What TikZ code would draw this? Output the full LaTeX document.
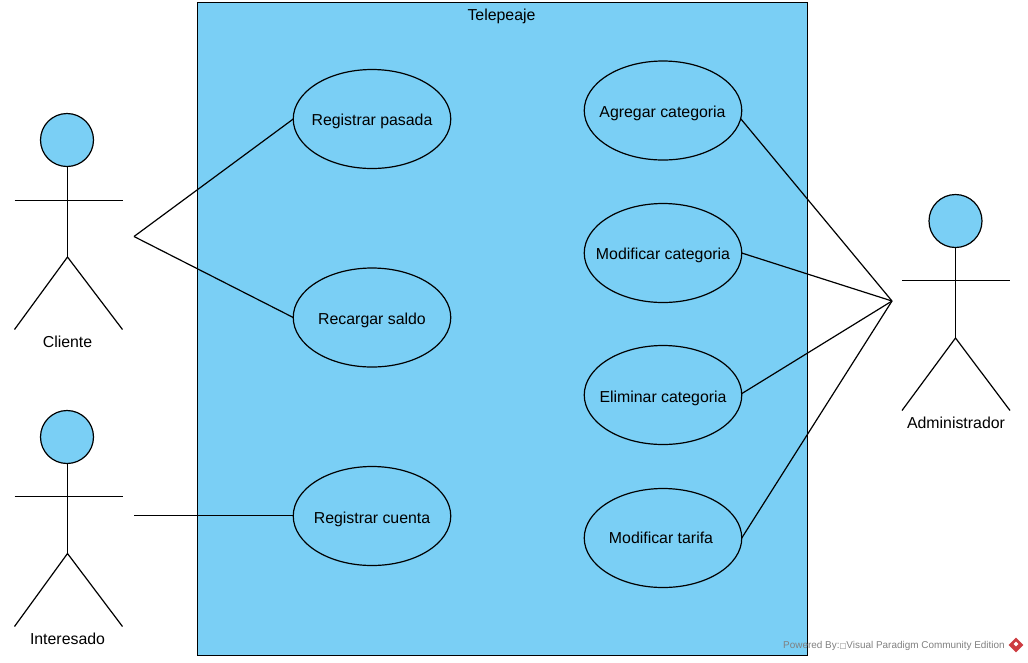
\documentclass[tikz,border=0pt]{standalone}
\usepackage{fontspec}
\setmainfont{Liberation Sans}
\newfontfamily\symfont{DejaVu Sans}
\usetikzlibrary{shapes.geometric}
\definecolor{vpblue}{RGB}{122,207,245}
\definecolor{vpred}{RGB}{205,60,65}
\newlength{\pxu}\setlength{\pxu}{0.75pt}
% label centred on the node: #1 = shift right (px), #2 = twice the baseline drop (px)
\newcommand{\uclabel}[3]{\hspace*{#1\pxu}\raisebox{-#2\pxu}{\smash{\makebox[0pt]{#3}}}}
\tikzset{
  usecase/.style={draw=black,fill=vpblue,ellipse,line width=0.9pt,minimum width=157.5\pxu,minimum height=99\pxu,inner sep=0pt,outer sep=0pt,font=\fontsize{11.9pt}{13pt}\selectfont},
  head/.style={draw=black,fill=vpblue,circle,line width=0.9pt,minimum size=53\pxu,inner sep=0pt,outer sep=0pt},
  lbl/.style={font=\fontsize{11.9pt}{13pt}\selectfont,inner sep=0pt},
  line/.style={draw=black,line width=0.9pt},
}
\begin{document}
\begin{tikzpicture}[x=0.75pt,y=-0.75pt]
\useasboundingbox (0,0) rectangle (1028,662);
\node[draw=black,fill=vpblue,line width=0.9pt,minimum width=610\pxu,minimum height=653\pxu,inner sep=0pt,outer sep=0pt] (sys) at (502.5,329) {};
\node[lbl] (systitle) at (501.5,16) {Telepeaje};
% use cases
\node[usecase] (pasada) at (372,119) {\uclabel{0}{12}{Registrar pasada}};
\node[usecase] (saldo) at (372,317.5) {\uclabel{0}{14}{Recargar saldo}};
\node[usecase] (cuenta) at (372,516) {\uclabel{0}{15}{Registrar cuenta}};
\node[usecase] (agregar) at (663,110.5) {\uclabel{-1}{14}{Agregar categoria}};
\node[usecase] (modcat) at (663,253) {\uclabel{0}{12.5}{Modificar categoria}};
\node[usecase] (elim) at (663,395) {\uclabel{0}{14}{Eliminar categoria}};
\node[usecase] (tarifa) at (663,538) {\uclabel{-4}{11.5}{Modificar tarifa}};
% actor Cliente
\node[head] (h1) at (67,140) {};
\coordinate (neck1) at (67.5,166.5);
\coordinate (hip1) at (67.5,257);
\coordinate (al1) at (14.5,200.5); \coordinate (ar1) at (122.5,200.5);
\coordinate (fl1) at (14.5,329.5); \coordinate (fr1) at (122.5,329.5);
\draw[line] (neck1) -- (hip1);
\draw[line] (al1) -- (ar1);
\draw[line] (fl1) -- (hip1) -- (fr1);
\node[lbl] (lc) at (67.5,341.5) {Cliente};
% actor Interesado
\node[head] (h2) at (67,437) {};
\coordinate (neck2) at (67.5,463.5);
\coordinate (hip2) at (67.5,553.5);
\coordinate (al2) at (14.5,496.5); \coordinate (ar2) at (122.5,496.5);
\coordinate (fl2) at (14.5,626.5); \coordinate (fr2) at (122.5,626.5);
\draw[line] (neck2) -- (hip2);
\draw[line] (al2) -- (ar2);
\draw[line] (fl2) -- (hip2) -- (fr2);
\node[lbl] (li) at (67.5,638.5) {Interesado};
% actor Administrador
\node[head] (h3) at (955.5,221) {};
\coordinate (hip3) at (955.5,338);
\coordinate (al3) at (902,280.5); \coordinate (ar3) at (1010,280.5);
\coordinate (fl3) at (902,410.5); \coordinate (fr3) at (1010,410.5);
\draw[line] (h3.south) -- (hip3);
\draw[line] (al3) -- (ar3);
\draw[line] (fl3) -- (hip3) -- (fr3);
\node[lbl] (la) at (956,422.5) {Administrador};
% connectors
\coordinate (c1) at (134,236.5);
\coordinate (c2) at (134,515.5);
\coordinate (c3) at (892,301);
\draw[line] (c1) -- (pasada.west);
\draw[line] (c1) -- (saldo.west);
\draw[line] (c2) -- (c2 -| cuenta.west);
\draw[line] (c3) -- (agregar.-6);
\draw[line] (c3) -- (modcat.east);
\draw[line] (c3) -- (elim.1.5);
\draw[line] (c3) -- (tarifa.east);
% watermark
\node[font=\fontsize{7.45pt}{8pt}\selectfont,text=black!50,inner sep=0pt,anchor=east] (wm) at (1005,646) {Powered By:{\symfont\fontsize{5.5pt}{6pt}\selectfont □}Visual Paradigm Community Edition};
\node[diamond,fill=vpred,minimum size=15\pxu,inner sep=0pt] (logo) at (1016,645) {};
\node[diamond,fill=white,minimum size=5\pxu,inner sep=0pt] (logoin) at (1016,644) {};
\end{tikzpicture}
\end{document}
